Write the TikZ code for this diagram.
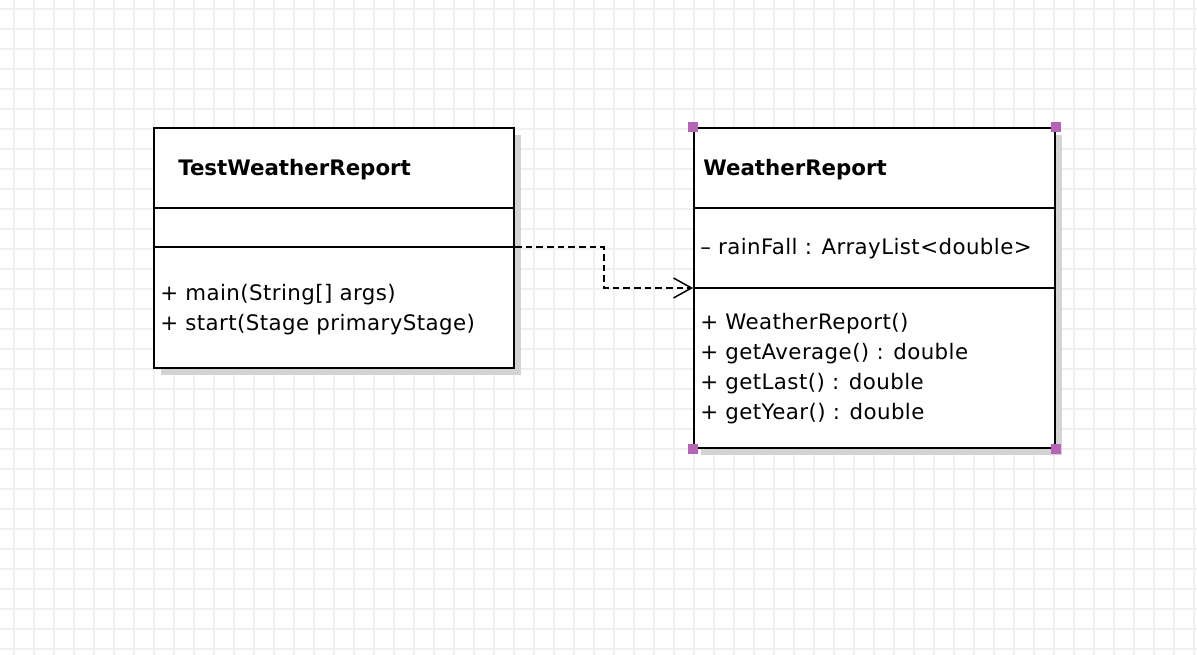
\documentclass[tikz,border=0pt]{standalone}
\usepackage{fontspec}
\setmainfont{DejaVu Sans}
\newfontfamily\bodyf{DejaVu Sans}[LetterSpace=2]
\usetikzlibrary{arrows.meta}
\definecolor{gridc}{RGB}{240,240,240}
\definecolor{shadowc}{RGB}{211,211,211}
\definecolor{handlec}{RGB}{181,101,181}
\tikzset{
  umlbox/.style={draw=black, line width=1.5pt, fill=white, inner sep=0pt},
  divider/.style={draw=black, line width=1.5pt},
  titletext/.style={anchor=base west, inner sep=0pt, font=\fontsize{16}{19}\selectfont\bfseries},
  membertext/.style={anchor=base west, inner sep=0pt, font=\fontsize{16}{19}\selectfont\bodyf},
  dep/.style={draw=black, line width=1.1pt, dash pattern=on 5pt off 3pt, -{Straight Barb[length=13.5pt,width=15pt,line width=1.1pt]}},
  handle/.style={fill=handlec, draw=none, minimum size=7.5pt, inner sep=0pt}
}
\begin{document}
\begin{tikzpicture}[x=0.75pt,y=-0.75pt]
\useasboundingbox (0,0) rectangle (1197,655);
\fill[white] (0,0) rectangle (1197,655);
% grid
\foreach \gx in {14,34,...,1194} \draw[gridc, line width=1.1pt] (\gx,0) -- (\gx,655);
\foreach \gy in {9,29,...,649} \draw[gridc, line width=1.1pt] (0,\gy) -- (1197,\gy);
% shadows
\fill[shadowc] (161,135) rectangle (521,375);
\fill[shadowc] (701,135) rectangle (1062,455);
% class TestWeatherReport
\node[umlbox, minimum width=270pt, minimum height=180pt] (tw) at (334,248) {};
\draw[divider] (tw.west |- 0,208) -- (tw.east |- 0,208);
\draw[divider] (tw.west |- 0,247) -- (tw.east |- 0,247);
\node[titletext] (twname) at (178,176) {TestWeatherReport};
\node[membertext] (twm1) at (160,301) {+ main(String[] args)};
\node[membertext] (twm2) at (160,331) {+ start(Stage primaryStage)};
% class WeatherReport
\node[umlbox, minimum width=270.75pt, minimum height=240pt] (wr) at (874.5,288) {};
\draw[divider] (wr.west |- 0,208) -- (wr.east |- 0,208);
\draw[divider] (wr.west |- 0,288) -- (wr.east |- 0,288);
\node[titletext] (wrname) at (703,176) {WeatherReport};
\node[membertext] (wra1) at (700,255) {– rainFall : ArrayList<double>};
\node[membertext] (wrm1) at (700,330) {+ WeatherReport()};
\node[membertext] (wrm2) at (700,360) {+ getAverage() : double};
\node[membertext] (wrm3) at (700,390) {+ getLast() : double};
\node[membertext] (wrm4) at (700,420) {+ getYear() : double};
% selection handles
\node[handle] (h1) at (wr.north west) {};
\node[handle] (h2) at (wr.north east) {};
\node[handle] (h3) at (wr.south west) {};
\node[handle] (h4) at (wr.south east) {};
% dependency
\coordinate (depstart) at (tw.east |- 0,247);
\coordinate (depend) at (wr.west |- 0,288);
\draw[dep] (depstart) -- (604,247) -- (604,288) -- (depend);
\end{tikzpicture}
\end{document}
